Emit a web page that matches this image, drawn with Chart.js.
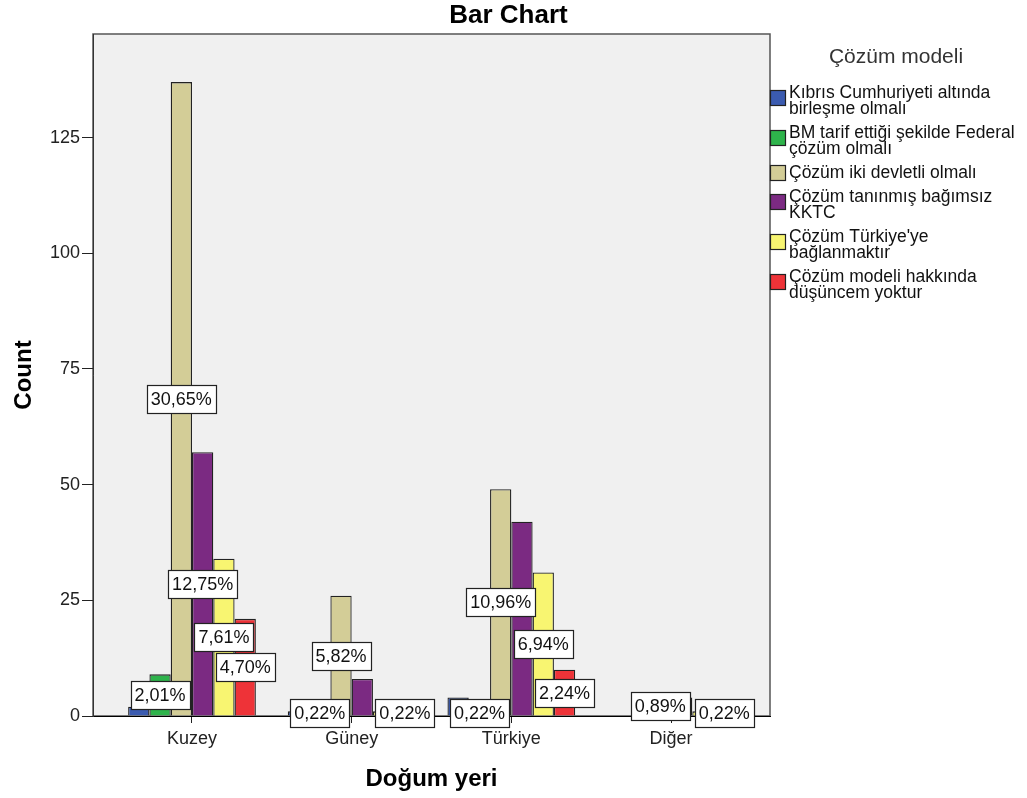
<!DOCTYPE html>
<html>
<head>
<meta charset="utf-8">
<script src="https://cdn.jsdelivr.net/npm/chart.js@4.4.0/dist/chart.umd.min.js"></script>
<style>
  html, body { margin: 0; padding: 0; background: #fff; }
</style>
</head>
<body>
<canvas id="chart" width="1027" height="798"></canvas>
<script>
// --- DATA ---
const categories = ['Kuzey', 'Güney', 'Türkiye', 'Diğer'];
const seriesNames = [
    'Kıbrıs Cumhuriyeti altında birleşme olmalı',
    'BM tarif ettiği şekilde Federal çözüm olmalı',
    'Çözüm iki devletli olmalı',
    'Çözüm tanınmış bağımsız KKTC',
    "Çözüm Türkiye'ye bağlanmaktır",
    'Çözüm modeli hakkında düşüncem yoktur'
];
const legendLines = [
    ['Kıbrıs Cumhuriyeti altında', 'birleşme olmalı'],
    ['BM tarif ettiği şekilde Federal', 'çözüm olmalı'],
    ['Çözüm iki devletli olmalı'],
    ['Çözüm tanınmış bağımsız', 'KKTC'],
    ["Çözüm Türkiye'ye", 'bağlanmaktır'],
    ['Çözüm modeli hakkında', 'düşüncem yoktur']
];
const birlesmeCounts = [2, 1, 4, 0];
const federalCounts = [9, 1, 1, 0];
const ikiDevletCounts = [137, 26, 49, 4];
const kktcCounts = [57, 8, 42, 4];
const turkiyeCounts = [34, 1, 31, 1];
const fikirYokCounts = [21, 1, 10, 1];
const totalN = 447;
// category indexes whose bar carries a percentage label, per series
const labelledBars = [[], [0, 1, 2], [0, 1, 2, 3], [0], [0, 2], [0, 1, 2, 3]];
const yTicks = [0, 25, 50, 75, 100, 125];
const yMax = 147.4;

const seriesCounts = [birlesmeCounts, federalCounts, ikiDevletCounts, kktcCounts, turkiyeCounts, fikirYokCounts];
const seriesColors = ['#3b5bb0', '#2eb34b', '#d3cd97', '#7b2a82', '#f8f571', '#ee3338'];

const FONT = '"Liberation Sans", Arial, sans-serif';

// --- PLUGINS ---
const plotFrame = {
    id: 'plotFrame',
    beforeDraw(chart) {
        const { ctx, chartArea: a } = chart;
        ctx.save();
        ctx.fillStyle = '#f0f0f0';
        ctx.fillRect(a.left, a.top, a.right - a.left, a.bottom - a.top);
        ctx.strokeStyle = '#555';
        ctx.lineWidth = 1.5;
        ctx.strokeRect(a.left, a.top, a.right - a.left, a.bottom - a.top);
        ctx.restore();
    }
};

const pctLabels = {
    id: 'pctLabels',
    afterDatasetsDraw(chart) {
        const ctx = chart.ctx;
        ctx.save();
        ctx.font = '18px ' + FONT;
        ctx.textAlign = 'center';
        ctx.textBaseline = 'middle';
        labelledBars.forEach((idxs, d) => {
            const meta = chart.getDatasetMeta(d);
            idxs.forEach(i => {
                const bar = meta.data[i];
                const v = seriesCounts[d][i];
                const text = (v / totalN * 100).toFixed(2).replace('.', ',') + '%';
                const cy = (bar.y + bar.base) / 2;
                const w = Math.round(ctx.measureText(text).width + 8);
                const h = 28;
                const bx = Math.round(bar.x - w / 2), by = Math.round(cy - h / 2);
                ctx.fillStyle = '#fff';
                ctx.fillRect(bx, by, w, h);
                ctx.strokeStyle = '#222';
                ctx.lineWidth = 1.2;
                ctx.strokeRect(bx + 0.5, by + 0.5, w, h);
                ctx.fillStyle = '#111';
                ctx.fillText(text, bar.x, cy + 1);
            });
        });
        ctx.restore();
    }
};

const textsAndLegend = {
    id: 'textsAndLegend',
    afterDraw(chart) {
        const { ctx, chartArea: a } = chart;
        ctx.save();
        ctx.fillStyle = '#000';
        ctx.textAlign = 'center';
        ctx.textBaseline = 'alphabetic';

        ctx.font = 'bold 26px ' + FONT;
        ctx.fillText('Bar Chart', chart.width / 2 - 5, 23);

        ctx.font = 'bold 24px ' + FONT;
        ctx.fillText('Doğum yeri', (a.left + a.right) / 2, 786);

        ctx.save();
        ctx.translate(31, (a.top + a.bottom) / 2);
        ctx.rotate(-Math.PI / 2);
        ctx.fillText('Count', 0, 0);
        ctx.restore();

        // legend
        ctx.font = '21px ' + FONT;
        ctx.fillStyle = '#333';
        ctx.textBaseline = 'middle';
        ctx.fillText('Çözüm modeli', 896, 57);

        ctx.font = '17.5px ' + FONT;
        ctx.textAlign = 'left';
        let y = 93;
        chart.data.datasets.forEach((ds, d) => {
            const lines = legendLines[d];
            const boxY = y + (lines.length - 1) * 5;
            ctx.fillStyle = ds.backgroundColor;
            ctx.fillRect(770, boxY - 8, 16, 16);
            ctx.strokeStyle = '#222';
            ctx.lineWidth = 1.2;
            ctx.strokeRect(770.5, boxY - 7.5, 15, 15);
            ctx.fillStyle = '#111';
            lines.forEach((ln, k) => ctx.fillText(ln, 789, y + k * 16));
            y += lines.length * 16 + 8;
        });
        ctx.restore();
    }
};

// --- CHART ---
const datasets = seriesNames.map((name, d) => ({
    label: name,
    data: seriesCounts[d].map((v, i) => ({ x: i, y: v })),
    backgroundColor: seriesColors[d],
    borderColor: '#222',
    borderWidth: 1.3,
    categoryPercentage: 0.8,
    barPercentage: 1.0
}));

new Chart(document.getElementById('chart'), {
    type: 'bar',
    data: { datasets },
    options: {
        responsive: false,
        animation: false,
        layout: { padding: { left: 0, top: 34, right: 257, bottom: 0 } },
        plugins: { legend: { display: false }, tooltip: { enabled: false } },
        scales: {
            x: {
                type: 'linear',
                offset: false,
                min: -0.62,
                max: 3.62,
                afterFit: s => { s.height = 82; },
                afterBuildTicks: s => { s.ticks = categories.map((_, i) => ({ value: i })); },
                grid: { offset: false, drawOnChartArea: false, drawTicks: true, tickLength: 7, color: '#222' },
                border: { display: true, color: '#000', width: 1 },
                ticks: {
                    autoSkip: false,
                    maxRotation: 0,
                    padding: 5,
                    color: '#222',
                    font: { family: FONT, size: 18 },
                    callback: v => categories[v]
                }
            },
            y: {
                min: 0,
                max: yMax,
                afterFit: s => { s.width = 93; },
                afterBuildTicks: s => { s.ticks = yTicks.map(v => ({ value: v })); },
                grid: { drawOnChartArea: false, drawTicks: true, tickLength: 11, color: '#222' },
                border: { display: true, color: '#333', width: 1 },
                ticks: {
                    padding: 2,
                    color: '#222',
                    font: { family: FONT, size: 18 }
                }
            }
        }
    },
    plugins: [plotFrame, pctLabels, textsAndLegend]
});
</script>
</body>
</html>
